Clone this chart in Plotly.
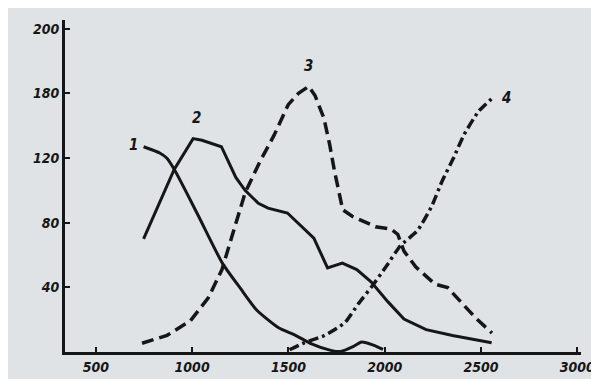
import plotly.graph_objects as go

# Curve 1 (solid)
c1_x = [748, 834, 868, 907, 1025, 1157, 1253, 1335, 1449, 1534, 1620, 1720, 1771, 1838, 1880, 1941, 1991]
c1_y = [127, 123, 120, 113, 86, 55, 39, 26, 15, 10.5, 5, 1, 0.3, 3.5, 6.2, 4.3, 1.6]

# Curve 2 (solid)
c2_x = [748, 907, 1005, 1051, 1152, 1227, 1275, 1344, 1394, 1495, 1632, 1703, 1780, 1855, 1929, 2017, 2100, 2215, 2352, 2555]
c2_y = [70, 113, 132, 131, 127, 108, 100, 92, 89, 86, 70.5, 52, 55, 51, 43.4, 31, 20.4, 13.8, 10.2, 5.7]

# Curve 3 (dashed)
c3_x = [740, 870, 991, 1083, 1155, 1215, 1275, 1353, 1425, 1499, 1552, 1605, 1638, 1684, 1714, 1739,
        1770, 1782, 1831, 1952, 2033, 2068, 2100, 2162, 2261, 2327, 2395, 2473, 2557]
c3_y = [5.4, 10.3, 19.3, 33.3, 51, 74.8, 98.5, 118, 134, 153, 160, 164.3, 158.7, 144.7, 128.4, 112,
        96.3, 88, 84, 77.5, 76, 72.7, 62.4, 52.5, 42, 39.8, 31, 21, 11.7]

# Curve 4 (dash-dot)
c4_x = [1506, 1584, 1687, 1793, 1863, 1939, 2009, 2080, 2171, 2243, 2299, 2355, 2411, 2488, 2569]
c4_y = [1.4, 5.8, 10.2, 18.1, 29.8, 41.5, 53.2, 65.5, 75.3, 90, 106, 119.5, 134.3, 149, 158.2]

curve_labels = ["1", "2", "3", "4"]
label_x = [697, 1025, 1604, 2634]
label_y = [128, 145, 177, 157]

x_tickvals = [500, 1000, 1500, 2000, 2500, 3000]
x_ticktext = ["500", "1000", "1500", "2000", "2500", "3000"]
y_tickvals = [40, 80, 120, 160, 200]
y_ticktext = ["40", "80", "120", "180", "200"]

ink = "#161616"
paper = "#dfe3e6"
font = dict(family="DejaVu Sans Condensed, DejaVu Sans", size=14, color=ink,
            style="italic", weight="bold")

fig = go.Figure()
fig.add_trace(go.Scatter(x=c1_x, y=c1_y, mode="lines", line=dict(color=ink, width=3, shape="spline", smoothing=0.6)))
fig.add_trace(go.Scatter(x=c2_x, y=c2_y, mode="lines", line=dict(color=ink, width=3)))
fig.add_trace(go.Scatter(x=c3_x, y=c3_y, mode="lines",
                         line=dict(color=ink, width=3.5, dash="12px,6px")))
fig.add_trace(go.Scatter(x=c4_x, y=c4_y, mode="lines",
                         line=dict(color=ink, width=3.5, dash="10px,4px,3px,4px", shape="spline", smoothing=0.5)))

for t, lx, ly in zip(curve_labels, label_x, label_y):
    fig.add_annotation(x=lx, y=ly, text=t, showarrow=False,
                       font=dict(family="DejaVu Sans Condensed, DejaVu Sans", size=15, color=ink,
                                 style="italic", weight="bold"))

fig.update_layout(
    width=599, height=379,
    margin=dict(l=57, r=17, t=12, b=25),
    paper_bgcolor=paper, plot_bgcolor=paper,
    showlegend=False,
    xaxis=dict(range=[340, 3019], tickvals=x_tickvals, ticktext=x_ticktext,
               showgrid=False, zeroline=False, showline=True, linecolor=ink, linewidth=3,
               ticks="inside", ticklen=5, tickwidth=2, tickcolor=ink, tickfont=font),
    yaxis=dict(range=[0, 205.4], tickvals=y_tickvals, ticktext=y_ticktext,
               showgrid=False, zeroline=False, showline=True, linecolor=ink, linewidth=3,
               ticks="inside", ticklen=5, tickwidth=2, tickcolor=ink, tickfont=font),
)

fig.write_html("out.html")
